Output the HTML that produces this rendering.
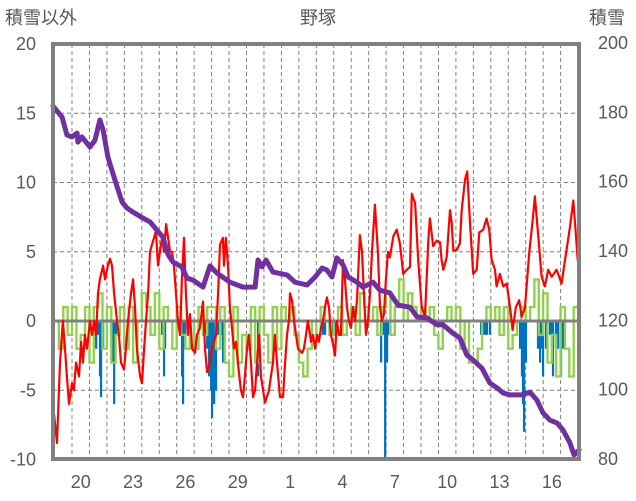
<!DOCTYPE html>
<html><head><meta charset="utf-8">
<style>
html,body{margin:0;padding:0;background:#fff;}
svg{display:block;font-family:"Liberation Sans","Noto Sans CJK JP",sans-serif;}
</style></head>
<body>
<svg id="chart" width="636" height="501" viewBox="0 0 636 501" xmlns="http://www.w3.org/2000/svg">
<text x="5" y="24" font-size="18" fill="#595959">積雪以外</text>
<text x="318" y="24" font-size="18" fill="#595959" text-anchor="middle">野塚</text>
<text x="589" y="24" font-size="18" fill="#595959">積雪</text>
<g id="grid"></g>
<g id="ylabels"></g>
<g id="rlabels"></g>
<g id="xlabels"></g>
<g id="marks"></g>
<rect x="53" y="44" width="526" height="415" fill="none" stroke="#808080" stroke-width="4"/>
</svg>
<script>
// ---- data (t = days since Jan 20 00:00) ----
const leftTicks = [20,15,10,5,0,-5,-10];
const rightTicks = [200,180,160,140,120,100,80];
const dayLabels = ["20","23","26","29","1","4","7","10","13","16"];
const dayLabelT = [0.5,3.5,6.5,9.5,12.5,15.5,18.5,21.5,24.5,27.5];

const redT = [-1.09,-0.86,-0.69,-0.52,-0.40,-0.29,-0.17,0,0.11,0.23,0.40,0.52,0.63,0.74,0.86,1.03,1.15,1.26,1.38,1.49,1.60,1.78,1.89,2.06,2.18,2.29,2.41,2.58,2.69,2.81,2.98,3.09,3.21,3.38,3.50,3.61,3.72,3.90,4.01,4.13,4.24,4.36,4.47,4.58,4.70,4.81,4.93,5.04,5.16,5.27,5.39,5.62,5.73,5.84,5.96,6.07,6.19,6.30,6.42,6.53,6.65,6.76,6.88,7.05,7.16,7.33,7.51,7.62,7.74,7.91,8.02,8.14,8.25,8.37,8.48,8.65,8.71,8.82,8.94,9.05,9.17,9.28,9.40,9.51,9.68,9.80,9.91,10.03,10.14,10.26,10.37,10.49,10.60,10.72,10.83,11.06,11.29,11.40,11.52,11.63,11.75,11.92,12.09,12.21,12.32,12.43,12.49,12.61,12.72,12.84,12.95,13.18,13.29,13.41,13.52,13.58,13.70,13.81,13.93,14.04,14.15,14.27,14.38,14.50,14.61,14.73,14.84,14.96,15.07,15.18,15.30,15.41,15.53,15.64,15.76,15.87,15.99,16.10,16.22,16.33,16.50,16.62,16.73,16.85,16.96,17.08,17.19,17.36,17.53,17.65,17.76,17.88,17.99,18.11,18.22,18.41,18.61,18.79,18.98,19.18,19.37,19.47,19.66,19.84,20.04,20.23,20.42,20.51,20.70,20.90,21.09,21.18,21.28,21.47,21.66,21.76,21.85,22.04,22.23,22.33,22.52,22.65,22.81,22.99,23.19,23.34,23.57,23.76,23.91,24.05,24.24,24.33,24.52,24.71,24.91,25.10,25.25,25.44,25.63,25.77,25.96,26.20,26.40,26.53,26.72,26.91,27.10,27.29,27.49,27.77,28.06,28.25,28.54,28.73,28.84,28.98,29.07];
const redV = [-6,-8.8,-3,0,-2,-4,-6,-4.5,-5,-3,-4,-1.5,-3,-1,-2,0,-1,0,-1,2,3,4,3,4,4.5,4,2,0,-1,-3,-3.5,-2,0,2,3,1,-2,-4,-4.5,-2,0,2,5,5.5,6,6.5,4,5,6,5,7,5,5,4,2,0,-1,3,6,2,-1,0.5,-2,-2.3,-1,-0.5,1.4,-2,-3.7,-3,-2,-1.5,-1,2,5.5,6,4,6,4,1,-0.5,-2,-1.5,-3,-5,-5.5,-4,-2,-1,-3,-5.5,-5,-3,-1,-4,-5.9,-5,-4,-3,-1,-3,-5.5,-5.5,-3,-1,0,2,1.5,0,-1,-2,-2.3,-2,-1,0,-0.5,-1.5,-1,-2,-1,-1.5,-0.5,0,1,1.7,1,-1,-1.7,-2.5,0,-1,-1,4.4,3,1,0,-0.5,1,0,1.5,6.2,5,2,-1,0,2,5,8.4,5,1,0,0.5,3,5,4.6,6.1,6.6,5.6,3.4,3.7,3.9,9.2,8.5,4.4,1.0,0.3,5.8,7.4,5.4,5.8,5.7,4.4,3.7,4.6,8.0,7.1,5.1,5.1,5.6,8.0,10.2,10.8,7.1,3.4,3.7,6.4,6.6,7.4,6.6,4.4,3.7,2.5,3.4,2.5,2.7,1.0,-0.65,1.0,1.5,0.3,1.0,4.9,7.3,9.0,6.1,3.2,2.5,3.7,3.2,3.7,2.7,4.4,6.8,8.7,6.8,4.4,5.1];

const greenStartT = -1;
const greenStep = 0.25;
const greenV = [0,-2,1,-1, 1,-2,-1,1, -3,1,2,-2, 1,-3,-1,1, -2,1,-3,0, 2,1,-1,2, -2,1,0,-2, 1,-1,-2,0, -2,1,-1,1, 1,-2,1,-3, -4,1,-3,-1, -2,1,-3,1, -1,-3,1,-2, 1,0,1,-1, -3,-4,-2,0, -1,1,0,-1, 0,1,-1,0, 1,-1,2,1, 0,1,-1,1, 2,-1,1,3, 0,2,1,0, 1,0,1,-1, -2,0,1,0, 1,-2,0,-3, -3,-2,0,1, 0,1,-1,1, -2,-1,0,1, 0,1,3,-1, 2,-3,-1,-4, 1,-2,-4,1, 1];

const blueT = [1.26,1.38,1.49,1.60,1.66,1.78,2.23,2.35,2.41,2.52,5.16,5.27,5.33,6.19,6.30,6.36,6.48,7.62,7.74,7.85,7.97,8.02,8.14,8.25,8.37,8.54,8.65,10.66,14.38,14.50,14.96,15.07,17.71,17.82,17.94,18.05,18.11,23.44,23.55,23.67,23.78,23.95,25.67,25.78,25.84,25.90,26.01,26.70,26.82,26.93,26.99,27.16,27.39,27.50,27.56,27.73,27.85,28.02,28.14];
const blueV = [-1,-2,-1,-4,-5.5,-2,-1,-3,-6,-1,-1,-4,-2,-1,-4,-6,-2,-1,-2,-4,-5,-7,-6,-5,-1,-1,-3,-4,-1,-1,-1,-1,-3,-1,-10,-3,-1,-1,-1,-1,-1,-1,-2,-4,-6,-8,-3,-2,-3,-2,-4,-2,-1,-3,-4,-2,-2,-4,-2];

const snowT = [-1.09,-0.57,-0.29,0,0.29,0.34,0.57,1.03,1.32,1.60,1.78,2.06,2.46,2.87,3.15,3.50,4.07,4.47,4.87,5.21,5.50,5.79,6.30,6.59,6.93,7.51,7.91,8.31,8.88,9.05,9.80,10.49,10.66,10.89,11.12,11.52,12.32,12.78,13.47,13.93,14.33,14.61,14.90,15.18,15.53,15.82,16.33,16.67,17.25,17.65,18.22,18.68,19.37,19.77,20.34,20.92,21.26,21.83,22.23,22.63,22.98,23.49,23.95,24.36,24.71,25.10,25.78,26.24,26.64,26.99,27.39,27.79,28.14,28.54,28.77,29.06];
const snowV = [181.8,178.6,173.5,172.9,174,171.4,172.9,170,172,177.8,174.9,167.1,160.5,154.1,152.4,151.2,149.5,148.4,146,144,139,136.8,135.4,132.2,131.6,129.6,135.7,133.6,131.6,131,129.6,129.6,137.4,135.4,137.4,133.9,133.1,131,130.2,132.5,135.1,134.5,132.5,138,136,132.5,131,129.6,131,128.7,127.9,124.4,123.8,121,120.7,118.7,118.7,116.3,114.9,110,108.6,106.2,101.9,100.5,99,98.5,98.5,99.3,97,93.3,91.2,90.4,88.4,84.6,81.2,82.6];

// ---- scales ----
const PL=53, PR=579, PT=44, PB=459;
function xS(t){ return 72 + t*17.45; }
function yL(v){ return 321 - v*13.85; }
function yR(s){ return 459 - (s-80)*3.4667; }
const NS="http://www.w3.org/2000/svg";
function mk(tag, attrs, parent){ const e=document.createElementNS(NS,tag); for(const k in attrs) e.setAttribute(k,attrs[k]); parent.appendChild(e); return e; }

const grid=document.getElementById('grid');
for(let d=0; d<=29; d++){
  const x=xS(d);
  if(x<=PL+2||x>=PR-1) continue;
  const l=mk('line',{x1:x,x2:x,y1:PT,y2:PB,stroke:'#7f7f7f','stroke-width':1,'stroke-dasharray':'4,3'},grid);
  
  
}
leftTicks.forEach(v=>{
  const y=yL(v);
  if(v!==20 && v!==-10 && v!==0){
    const l=mk('line',{x1:PL,x2:PR,y1:y,y2:y,stroke:'#7f7f7f','stroke-width':1,'stroke-dasharray':'4,3'},grid);
    
    
  }
  const t=mk('text',{x:36,y:y+6,'font-size':18,fill:'#595959','text-anchor':'end'},document.getElementById('ylabels'));
  t.textContent=v;
  
  
});
rightTicks.forEach(s=>{
  const t=mk('text',{x:598,y:yR(s)+6,'font-size':18,fill:'#595959'},document.getElementById('rlabels'));
  t.textContent=s;
  
  
});
dayLabels.forEach((lab,i)=>{
  const t=mk('text',{x:xS(dayLabelT[i]),y:488,'font-size':18,fill:'#595959','text-anchor':'middle'},document.getElementById('xlabels'));
  t.textContent=lab;
  
  
});

const marks=document.getElementById('marks');
// blue bars
const gB=mk('g',{},marks);


blueT.forEach((t,i)=>{
  const y0=yL(0), y1=yL(blueV[i]);
  const r=mk('rect',{x:xS(t)-1,y:Math.min(y0,y1),width:2.2,height:Math.abs(y1-y0),fill:'#0070c0'},gB);
  
  
});
// green step line
let gp='';
greenV.forEach((v,i)=>{
  const x=Math.max(PL,xS(greenStartT+i*greenStep)), y=yL(v);
  const xn=Math.min(PR,xS(greenStartT+(i+1)*greenStep));
  gp += (i===0?'M':'L')+x.toFixed(1)+','+y.toFixed(1)+' L'+xn.toFixed(1)+','+y.toFixed(1)+' ';
});
const gl=mk('path',{d:gp,fill:'none',stroke:'#92d050','stroke-width':2.4,'stroke-linejoin':'miter'},marks);


// zero line
const z=mk('line',{x1:PL,x2:PR,y1:yL(0),y2:yL(0),stroke:'#808080','stroke-width':3},marks);


// red line
let rp='';
redT.forEach((t,i)=>{ rp += (i===0?'M':'L')+xS(t).toFixed(1)+','+yL(redV[i]).toFixed(1)+' '; });
const rl=mk('path',{d:rp,fill:'none',stroke:'#ff0000','stroke-width':2.2,'stroke-linejoin':'round'},marks);


// purple snow depth
let sp='';
snowT.forEach((t,i)=>{ sp += (i===0?'M':'L')+xS(t).toFixed(1)+','+yR(snowV[i]).toFixed(1)+' '; });
const sl=mk('path',{d:sp,fill:'none',stroke:'#7030a0','stroke-width':5,'stroke-linejoin':'round','stroke-linecap':'round'},marks);


</script>
</body></html>
